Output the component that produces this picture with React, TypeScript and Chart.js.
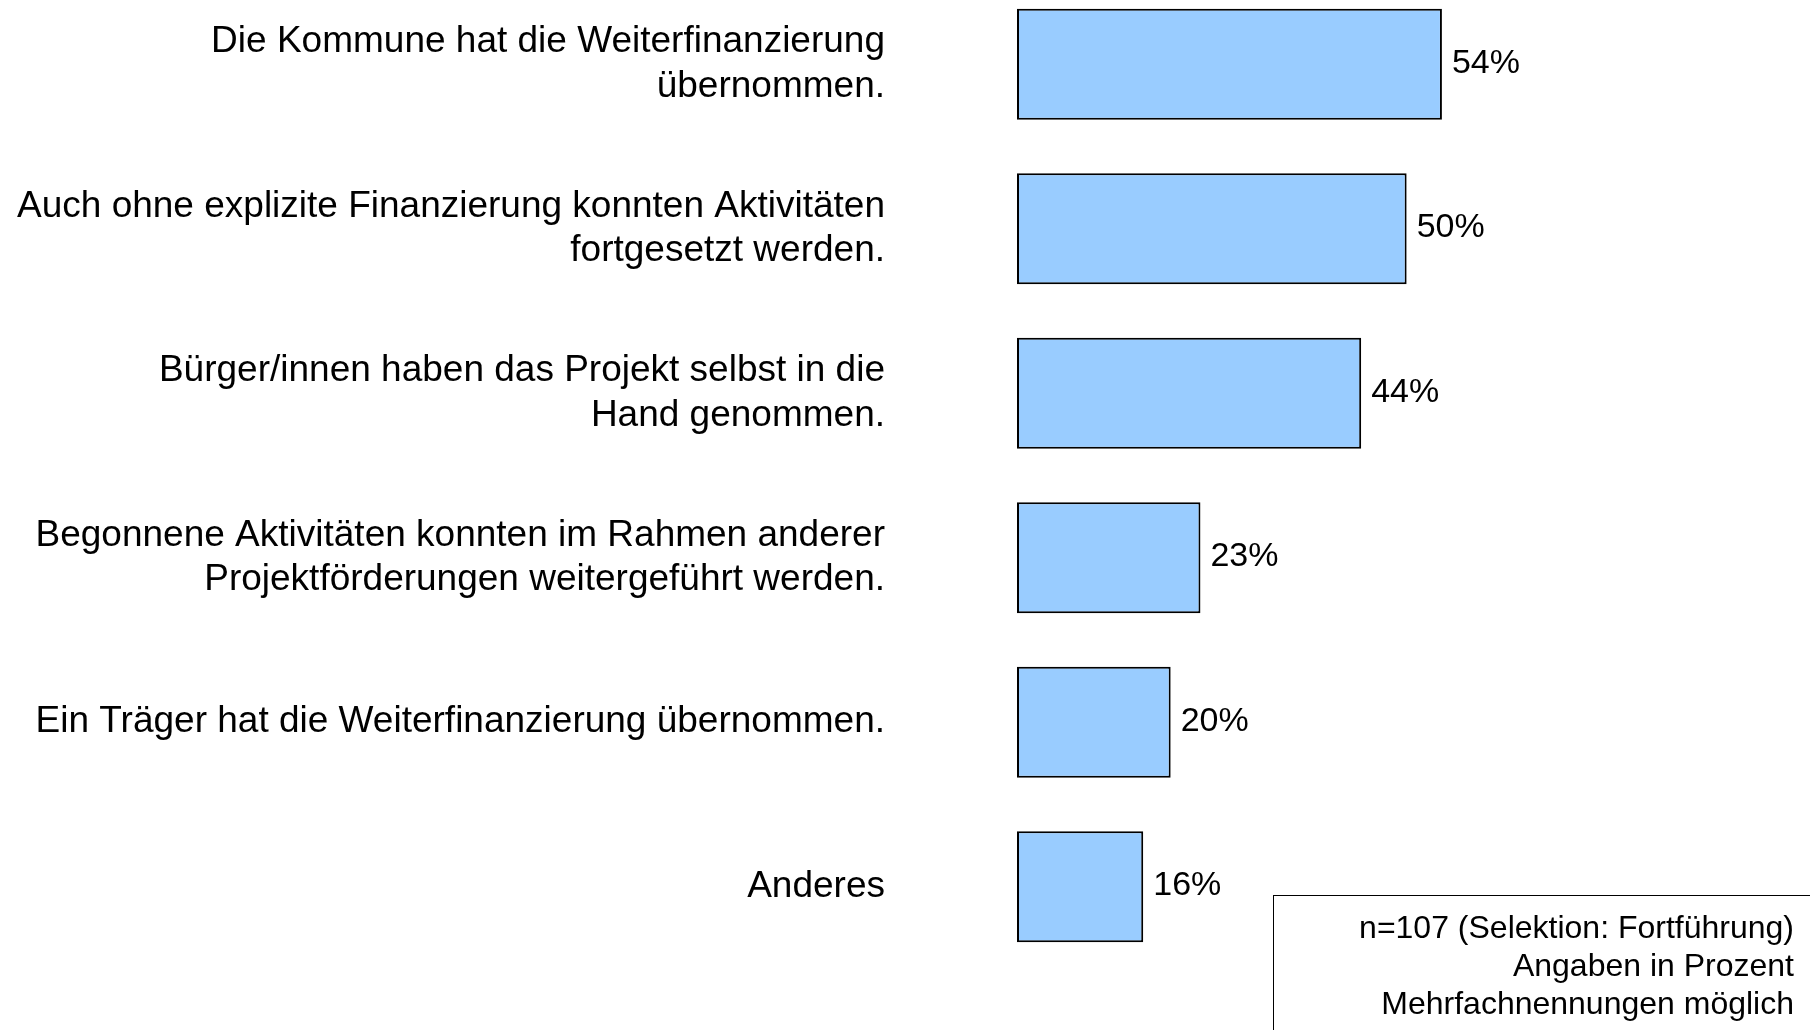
import React, { useEffect, useRef } from "react";
import { Chart, registerables } from "chart.js";

Chart.register(...registerables);

const categories: (string | string[])[] = [
  ["Die Kommune hat die Weiterfinanzierung", "übernommen."],
  ["Auch ohne explizite Finanzierung konnten Aktivitäten", "fortgesetzt werden."],
  ["Bürger/innen haben das Projekt selbst in die", "Hand genommen."],
  ["Begonnene Aktivitäten konnten im Rahmen anderer", "Projektförderungen weitergeführt werden."],
  "Ein Träger hat die Weiterfinanzierung übernommen.",
  "Anderes",
];

const values: number[] = [54.2, 49.7, 43.9, 23.4, 19.6, 16.1];

const percentLabels: string[] = ["54%", "50%", "44%", "23%", "20%", "16%"];

const noteLines: string[] = [
  "n=107 (Selektion: Fortführung)",
  "Angaben in Prozent",
  "Mehrfachnennungen möglich",
];

const FONT = '"Liberation Sans", Arial, Helvetica, sans-serif';

const valueLabelPlugin = {
  id: "valueLabels",
  afterDatasetsDraw(chart: any) {
    const ctx = chart.ctx;
    const meta = chart.getDatasetMeta(0);
    ctx.save();
    ctx.font = `34px ${FONT}`;
    ctx.fillStyle = "#000";
    ctx.textAlign = "left";
    ctx.textBaseline = "middle";
    meta.data.forEach((bar: any, i: number) => {
      ctx.fillText(percentLabels[i], bar.x + 10, bar.y - 1);
    });
    ctx.restore();
  },
};

export default function App() {
  const ref = useRef<HTMLCanvasElement | null>(null);

  useEffect(() => {
    document.body.style.margin = "0";
    document.body.style.overflow = "hidden";
    if (!ref.current) return;
    const chart = new Chart(ref.current, {
      type: "bar",
      data: {
        labels: categories,
        datasets: [
          {
            data: values,
            backgroundColor: "#99CCFF",
            borderColor: "#000000",
            borderWidth: 2,
            borderSkipped: false,
            barPercentage: 0.675,
            categoryPercentage: 1,
          },
        ],
      },
      options: {
        indexAxis: "y",
        animation: false,
        responsive: false,
        maintainAspectRatio: false,
        layout: { padding: { top: 0, right: 9, bottom: 61, left: 0 } },
        plugins: {
          legend: { display: false },
          tooltip: { enabled: false },
        },
        scales: {
          x: {
            display: false,
            min: 0,
            max: 100,
          },
          y: {
            grid: { display: false, drawTicks: false },
            border: { display: false },
            ticks: {
              color: "#000",
              font: { family: FONT, size: 37 },
              padding: 132,
            },
            afterFit(scale: any) {
              scale.width = 1017;
              scale.paddingTop = 0;
              scale.paddingBottom = 0;
            },
          },
        },
      },
      plugins: [valueLabelPlugin],
    });
    return () => chart.destroy();
  }, []);

  return (
    <div
      style={{
        position: "relative",
        width: 1810,
        height: 1030,
        overflow: "hidden",
        background: "#fff",
      }}
    >
      <canvas
        ref={ref}
        width={1810}
        height={1048}
        style={{ position: "absolute", left: 0, top: -18, width: 1810, height: 1048 }}
      />
      <div
        style={{
          position: "absolute",
          left: 1273,
          top: 895,
          width: 547,
          height: 200,
          border: "1.5px solid #000",
          boxSizing: "border-box",
          paddingTop: 12,
          paddingRight: 25,
          textAlign: "right",
          fontFamily: FONT,
          fontSize: 32,
          lineHeight: "38px",
          color: "#000",
        }}
      >
        {noteLines.map((l, i) => (
          <div key={i}>{l}</div>
        ))}
      </div>
    </div>
  );
}
